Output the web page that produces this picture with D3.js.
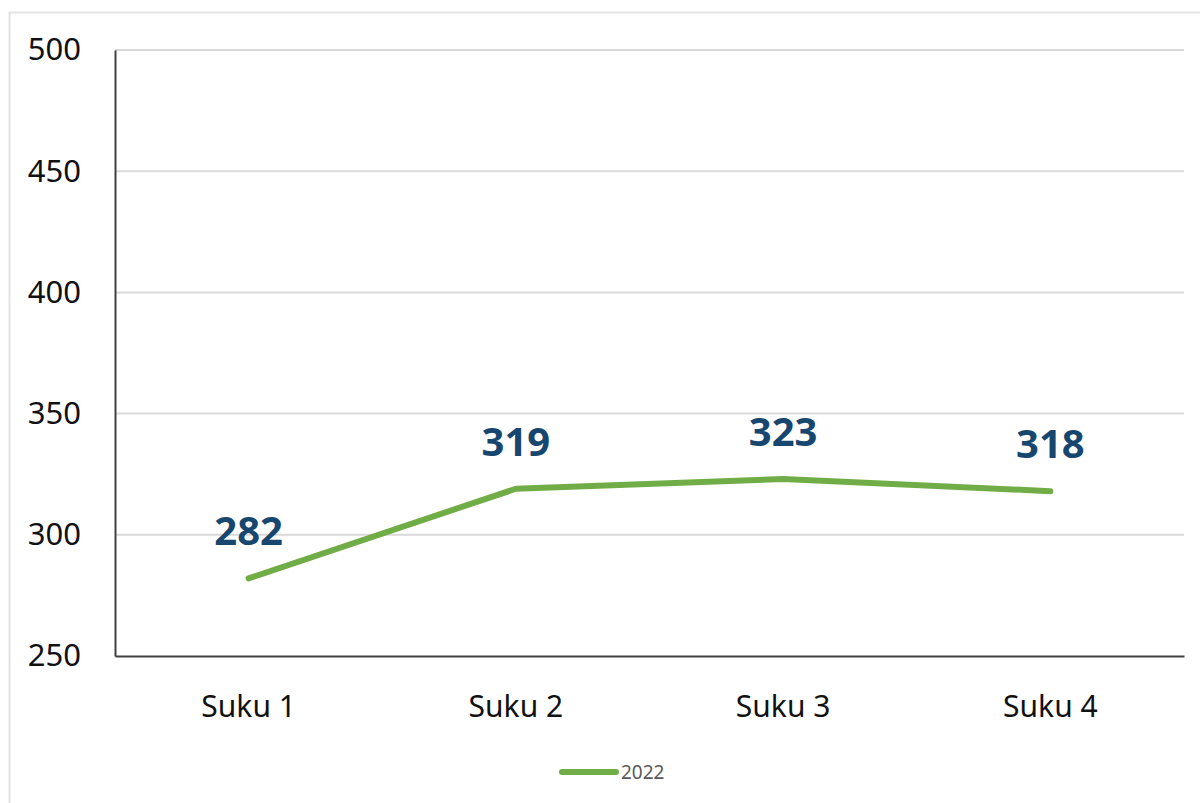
<!DOCTYPE html>
<html>
<head>
<meta charset="utf-8">
<script src="https://cdn.jsdelivr.net/npm/d3@7"></script>
<style>
  body { margin: 0; background: #fff; }
  svg { display: block; }
  svg text { font-family: "Noto Sans", "Open Sans", sans-serif; }
</style>
</head>
<body>
<svg width="1200" height="803"></svg>
<script>
// chart data
const categories = ["Suku 1", "Suku 2", "Suku 3", "Suku 4"];
const values2022 = [282, 319, 323, 318];
const yTicks = [250, 300, 350, 400, 450, 500];
const seriesName = "2022";

const margin = {top: 50, right: 16, bottom: 147, left: 115};
const width = 1200 - margin.left - margin.right;
const height = 803 - margin.top - margin.bottom;

const svg = d3.select("svg");

// outer chart frame (only top & left edges visible in reference)
svg.append("path")
   .attr("d", "M9.5,803 V12.5 H1200")
   .attr("fill", "none")
   .attr("stroke", "#e3e3e3")
   .attr("stroke-width", 2);

const g = svg.append("g")
             .attr("transform", "translate(" + margin.left + "," + margin.top + ")");

const x = d3.scaleBand().domain(categories).range([0, width]);
const y = d3.scaleLinear().domain([250, 500]).range([height, 0]);

// gridlines
g.append("g")
 .selectAll("line")
 .data(yTicks.filter(d => d > 250))
 .enter()
 .append("line")
 .attr("x1", 0)
 .attr("x2", width)
 .attr("y1", d => y(d))
 .attr("y2", d => y(d))
 .attr("stroke", "#d9d9d9")
 .attr("stroke-width", 2);

// y axis
const yAxis = g.append("g")
               .call(d3.axisLeft(y).tickValues(yTicks).tickSize(0).tickPadding(34));
yAxis.attr("font-family", null);
yAxis.select(".domain").attr("stroke", "#404040").attr("stroke-width", 2);
yAxis.selectAll("text")
     .attr("fill", "#111")
     .style("font-size", "31px");

// x axis
const xAxis = g.append("g")
               .attr("transform", "translate(0," + height + ")")
               .call(d3.axisBottom(x).tickSize(0).tickPadding(40));
xAxis.attr("font-family", null);
xAxis.select(".domain").attr("stroke", "#404040").attr("stroke-width", 2);
xAxis.selectAll("text")
     .attr("fill", "#111")
     .style("font-size", "30px");

// line
const line = d3.line()
               .x((d, i) => x(categories[i]) + x.bandwidth() / 2)
               .y(d => y(d));

g.append("path")
 .datum(values2022)
 .attr("d", line)
 .attr("fill", "none")
 .attr("stroke", "#70ad47")
 .attr("stroke-width", 6)
 .attr("stroke-linecap", "round")
 .attr("stroke-linejoin", "round");

// data labels
g.selectAll(".val")
 .data(values2022)
 .enter()
 .append("text")
 .attr("class", "val")
 .attr("x", (d, i) => x(categories[i]) + x.bandwidth() / 2)
 .attr("y", d => y(d) - 33)
 .attr("text-anchor", "middle")
 .attr("fill", "#17466f")
 .style("font-size", "40px")
 .style("font-weight", "bold")
 .text(d => d);

// legend
const legend = svg.append("g").attr("transform", "translate(562,772)");
legend.append("line")
      .attr("x1", 0).attr("x2", 54)
      .attr("stroke", "#70ad47")
      .attr("stroke-width", 6)
      .attr("stroke-linecap", "round");
legend.append("text")
      .attr("x", 59)
      .attr("dy", "0.35em")
      .attr("fill", "#595959")
      .style("font-size", "19px")
      .text(seriesName);
</script>
</body>
</html>
